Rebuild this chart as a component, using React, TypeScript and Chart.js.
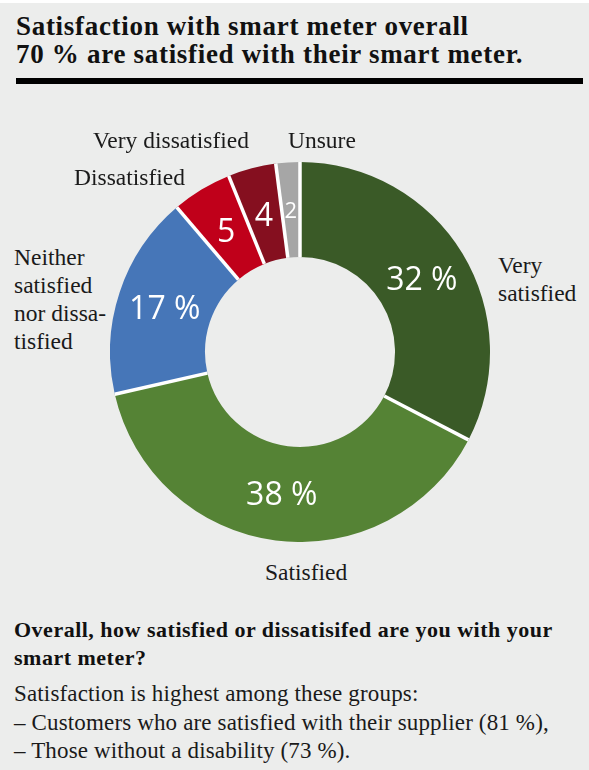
import React, { useEffect, useRef } from "react";
import { Chart, registerables } from "chart.js";

Chart.register(...registerables);

const categories = [
  "Very satisfied",
  "Satisfied",
  "Neither satisfied nor dissatisfied",
  "Dissatisfied",
  "Very dissatisfied",
  "Unsure",
];
const values = [32, 38, 17, 5, 4, 2];
const valueLabels = ["32 %", "38 %", "17 %", "5", "4", "2"];
const sliceColors = ["#3A5A27", "#558335", "#4676B8", "#C0001A", "#850F1F", "#A6A6A6"];
const labelLines = [
  ["Very", "satisfied"],
  ["Satisfied"],
  ["Neither", "satisfied", "nor dissa-", "tisfied"],
  ["Dissatisfied"],
  ["Very dissatisfied"],
  ["Unsure"],
];
const titleLines = [
  "Satisfaction with smart meter overall",
  "70 % are satisfied with their smart meter.",
];
const questionLines = [
  "Overall, how satisfied or dissatisifed are you with your",
  "smart meter?",
];
const noteLines = [
  "Satisfaction is highest among these groups:",
  "– Customers who are satisfied with their supplier (81 %),",
  "– Those without a disability (73 %).",
];

// layout of outside labels (left, top of first line)
const labelPos = [
  { left: 498, top: 251 },
  { left: 265, top: 558 },
  { left: 14, top: 243 },
  { left: 74, top: 163 },
  { left: 93, top: 126 },
  { left: 288, top: 126 },
];
const valueFontSizes = [32, 32, 32, 32, 32, 22];

const sliceDecor = {
  id: "sliceDecor",
  afterDatasetsDraw(chart: any) {
    const meta = chart.getDatasetMeta(0);
    const ctx = chart.ctx;
    ctx.save();
    ctx.strokeStyle = "#ffffff";
    ctx.lineWidth = 3.5;
    meta.data.forEach((arc: any) => {
      const p = arc.getProps(["x", "y", "startAngle", "innerRadius", "outerRadius"], true);
      ctx.beginPath();
      ctx.moveTo(p.x + Math.cos(p.startAngle) * p.innerRadius, p.y + Math.sin(p.startAngle) * p.innerRadius);
      ctx.lineTo(p.x + Math.cos(p.startAngle) * p.outerRadius, p.y + Math.sin(p.startAngle) * p.outerRadius);
      ctx.stroke();
    });
    ctx.fillStyle = "#ffffff";
    ctx.textAlign = "center";
    ctx.textBaseline = "alphabetic";
    meta.data.forEach((arc: any, i: number) => {
      const pos = arc.tooltipPosition(true);
      const size = valueFontSizes[i];
      ctx.font = `${size}px "Open Sans"`;
      ctx.fillText(valueLabels[i], pos.x, pos.y + size * 0.357);
    });
    ctx.restore();
  },
};

const SERIF = "Liberation Serif";

export default function App() {
  const canvasRef = useRef<HTMLCanvasElement | null>(null);

  useEffect(() => {
    document.body.style.margin = "0";
    document.body.style.background = "#ffffff";
    const chart = new Chart(canvasRef.current as HTMLCanvasElement, {
      type: "doughnut",
      data: {
        labels: categories,
        datasets: [
          {
            data: values,
            backgroundColor: sliceColors,
            borderWidth: 0,
            hoverOffset: 0,
          },
        ],
      },
      options: {
        animation: false,
        responsive: true,
        maintainAspectRatio: false,
        cutout: "50%",
        events: [],
        layout: { padding: 0 },
        plugins: {
          legend: { display: false },
          tooltip: { enabled: false },
        },
      },
      plugins: [sliceDecor],
    });
    return () => chart.destroy();
  }, []);

  const labelStyle: React.CSSProperties = {
    position: "absolute",
    fontFamily: SERIF,
    fontSize: 23.5,
    lineHeight: "28px",
    color: "#1a1a1a",
    whiteSpace: "nowrap",
  };

  return (
    <div style={{ position: "relative", width: 589, height: 770, background: "#ffffff", overflow: "hidden" }}>
      <div style={{ position: "absolute", left: 0, top: 3, width: 589, height: 767, background: "#ECEDEC" }} />
      <div
        style={{
          position: "absolute",
          left: 16,
          top: 12,
          fontFamily: SERIF,
          fontWeight: "bold",
          fontSize: 27,
          letterSpacing: "0.7px",
          lineHeight: "28px",
          color: "#111",
          whiteSpace: "nowrap",
        }}
      >
        {titleLines.map((t, i) => (
          <div key={i}>{t}</div>
        ))}
      </div>
      <div style={{ position: "absolute", left: 16, top: 78, width: 567, height: 6, background: "#000" }} />
      <div style={{ position: "absolute", left: 110, top: 162, width: 380, height: 380 }}>
        <canvas ref={canvasRef} />
      </div>
      {labelLines.map((lines, i) => (
        <div key={i} style={{ ...labelStyle, left: labelPos[i].left, top: labelPos[i].top }}>
          {lines.map((l, j) => (
            <div key={j}>{l}</div>
          ))}
        </div>
      ))}
      <div
        style={{
          position: "absolute",
          left: 14,
          top: 616,
          fontFamily: SERIF,
          fontWeight: "bold",
          fontSize: 22,
          letterSpacing: "0.5px",
          lineHeight: "28px",
          color: "#111",
          whiteSpace: "nowrap",
        }}
      >
        {questionLines.map((t, i) => (
          <div key={i}>{t}</div>
        ))}
      </div>
      <div
        style={{
          position: "absolute",
          left: 14,
          top: 680,
          fontFamily: SERIF,
          fontSize: 23,
          letterSpacing: "0.15px",
          lineHeight: "28.5px",
          color: "#1a1a1a",
          whiteSpace: "nowrap",
        }}
      >
        {noteLines.map((t, i) => (
          <div key={i}>{t}</div>
        ))}
      </div>
    </div>
  );
}
